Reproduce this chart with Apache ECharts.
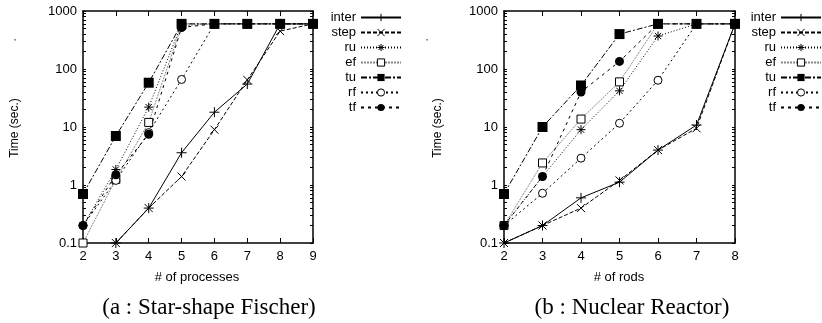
<!DOCTYPE html>
<html><head><meta charset="utf-8">
<script src="https://cdn.jsdelivr.net/npm/echarts@6/dist/echarts.min.js"></script>
<style>html,body{margin:0;padding:0;background:#fff}#c{width:822px;height:323px}</style>
</head><body><div id="c"></div>
<script>
// ---- data ----
const seriesNames = ['inter', 'step', 'ru', 'ef', 'tu', 'rf', 'tf'];
// (a) Star-shape Fischer
const procX = [2, 3, 4, 5, 6, 7, 8, 9];
const fInter = [null, 0.1, 0.4, 3.6, 18, 55, 600, 600];
const fStep  = [null, 0.1, 0.4, 1.4, 9, 65, 450, 600];
const fRu    = [0.2, 1.85, 22, 600, 600, 600, 600, 600];
const fEf    = [0.1, 1.25, 12, 560, 600, 600, 600, 600];
const fTu    = [0.7, 7, 58, 600, 600, 600, 600, 600];
const fRf    = [0.2, 1.2, 8, 66, 600, 600, 600, 600];
const fTf    = [0.2, 1.5, 7.5, 520, 600, 600, 600, 600];
// (b) Nuclear Reactor
const rodX = [2, 3, 4, 5, 6, 7, 8];
const nInter = [0.1, 0.2, 0.6, 1.12, 4, 10.8, 600];
const nStep  = [0.1, 0.2, 0.4, 1.2, 4, 9.5, 600];
const nRu    = [0.2, 1.4, 9, 42, 370, 600, 600];
const nEf    = [0.2, 2.4, 13.7, 60, 600, 600, 600];
const nTu    = [0.7, 10, 52, 400, 600, 600, 600];
const nRf    = [0.2, 0.72, 2.9, 11.6, 64, 600, 600];
const nTf    = [0.2, 1.4, 40, 135, 600, 600, 600];
const yMajorTicks = [0.1, 1, 10, 100, 1000];
const yMinorTicks = [0.2,0.3,0.4,0.5,0.6,0.7,0.8,0.9,2,3,4,5,6,7,8,9,20,30,40,50,60,70,80,90,200,300,400,500,600,700,800,900];

// ---- styles ----
const K = '#000';
const plusPath = 'path://M0,5L10,5M5,0L5,10';
const crossPath = 'path://M0,0L10,10M10,0L0,10';
const starPath = 'path://M0,5L10,5M5,0L5,10M1.5,1.5L8.5,8.5M8.5,1.5L1.5,8.5';
const boxPath = 'path://M0,0L10,0L10,10L0,10Z';
const ringPath = 'path://M10,5A5,5,0,1,1,0,5A5,5,0,1,1,10,5Z';
const styles = {
  inter: {symbol: plusPath, size: 10, line: {type: 'solid', color: K}, item: {color: K, borderColor: K, borderWidth: 1}},
  step:  {symbol: crossPath, size: 8, line: {type: [4, 2], color: K}, item: {color: K, borderColor: K, borderWidth: 1}},
  ru:    {symbol: starPath, size: 9, line: {type: [1, 2], color: K}, item: {color: K, borderColor: K, borderWidth: 1}},
  ef:    {symbol: boxPath, size: 8, line: {type: [2, 1], color: '#888'}, item: {color: '#fff', borderColor: K, borderWidth: 1}},
  tu:    {symbol: 'rect', size: 10, line: {type: [6, 2, 2, 2], color: K}, item: {color: K}},
  rf:    {symbol: ringPath, size: 8, line: {type: [2, 3], color: K}, item: {color: '#fff', borderColor: K, borderWidth: 1}},
  tf:    {symbol: 'circle', size: 9, line: {type: [3, 4], color: K}, item: {color: K}}
};

function pairs(xs, ys) { return xs.map((x, i) => [x, ys[i]]); }
function mkSeries(name, xs, ys, gi) {
  const s = styles[name];
  return {
    name, type: 'line', xAxisIndex: gi * 2, yAxisIndex: gi * 2,
    data: pairs(xs, ys), symbol: s.symbol, symbolSize: s.size,
    lineStyle: Object.assign({width: 1}, s.line), itemStyle: s.item,
    emphasis: {disabled: true}, silent: true, connectNulls: false
  };
}

const grids = [
  {left: 83, right: 509, top: 11, bottom: 80},
  {left: 504, right: 87, top: 11, bottom: 80}
];
const xRanges = [[2, 9], [2, 8]];
const font = 'Liberation Sans, Arial, sans-serif';
const axLine = {show: true, lineStyle: {color: K, width: 1.5}};
const yTickAll = yMinorTicks.concat(yMajorTicks);

const xAxes = [], yAxes = [];
grids.forEach((g, gi) => {
  xAxes.push({type: 'value', gridIndex: gi, position: 'bottom', min: xRanges[gi][0], max: xRanges[gi][1], interval: 1,
    axisLine: axLine, axisTick: {inside: true, length: 5, lineStyle: {color: K}}, splitLine: {show: false},
    axisLabel: {color: K, fontSize: 13, fontFamily: font, margin: 7}});
  xAxes.push({type: 'value', gridIndex: gi, position: 'top', min: xRanges[gi][0], max: xRanges[gi][1], interval: 1,
    axisLine: axLine, axisTick: {inside: true, length: 5, lineStyle: {color: K}}, splitLine: {show: false},
    axisLabel: {show: false}});
  yAxes.push({type: 'log', logBase: 10, gridIndex: gi, position: 'left', min: 0.1, max: 1000,
    axisLine: axLine, axisTick: {inside: true, length: 3, customValues: yTickAll, lineStyle: {color: K}}, splitLine: {show: false},
    axisLabel: {color: K, fontSize: 13, fontFamily: font, margin: 6, customValues: yMajorTicks,
      formatter: v => (v < 1 ? '0.1' : String(Math.round(v)))}});
  yAxes.push({type: 'log', logBase: 10, gridIndex: gi, position: 'right', min: 0.1, max: 1000,
    axisLine: axLine, axisTick: {inside: true, length: 3, customValues: yTickAll, lineStyle: {color: K}},
    splitLine: {show: false}, axisLabel: {show: false}});
});

const fData = {inter: fInter, step: fStep, ru: fRu, ef: fEf, tu: fTu, rf: fRf, tf: fTf};
const nData = {inter: nInter, step: nStep, ru: nRu, ef: nEf, tu: nTu, rf: nRf, tf: nTf};
const series = [];
seriesNames.forEach(n => series.push(mkSeries(n, procX, fData[n], 0)));
seriesNames.forEach(n => series.push(mkSeries(n, rodX, nData[n], 1)));

function legend(right) {
  return {orient: 'vertical', align: 'right', right, top: 11, padding: 0, itemWidth: 40, itemHeight: 9, itemGap: 2,
    data: seriesNames, selectedMode: false, itemStyle: {borderWidth: 1},
    textStyle: {color: K, fontSize: 13, fontFamily: font, lineHeight: 12}};
}

function txt(x, y, text, opts) {
  return {type: 'text', x, y, style: Object.assign({text, fill: K, fontFamily: font, fontSize: 12, align: 'center', verticalAlign: 'middle'}, opts || {})};
}
const serif = 'Liberation Serif, Times New Roman, serif';
const graphic = [
  Object.assign(txt(15, 128, 'Time (sec.)', {fontSize: 12}), {rotation: Math.PI / 2}),
  Object.assign(txt(438, 128, 'Time (sec.)', {fontSize: 12}), {rotation: Math.PI / 2}),
  txt(15, 43, '\u2019', {fontSize: 9}),
  txt(427, 43, '\u2019', {fontSize: 9}),
  txt(197, 277, '# of processes', {fontSize: 13}),
  txt(619, 277, '# of rods', {fontSize: 13}),
  txt(209, 308, '(a : Star-shape Fischer)', {fontFamily: serif, fontSize: 23}),
  txt(632, 308, '(b : Nuclear Reactor)', {fontFamily: serif, fontSize: 23})
];

const chart = echarts.init(document.getElementById('c'), null, {renderer: 'canvas'});
chart.setOption({
  animation: false, backgroundColor: '#fff',
  grid: grids, xAxis: xAxes, yAxis: yAxes, series,
  legend: [legend(420), legend(0)],
  graphic
});
</script></body></html>
